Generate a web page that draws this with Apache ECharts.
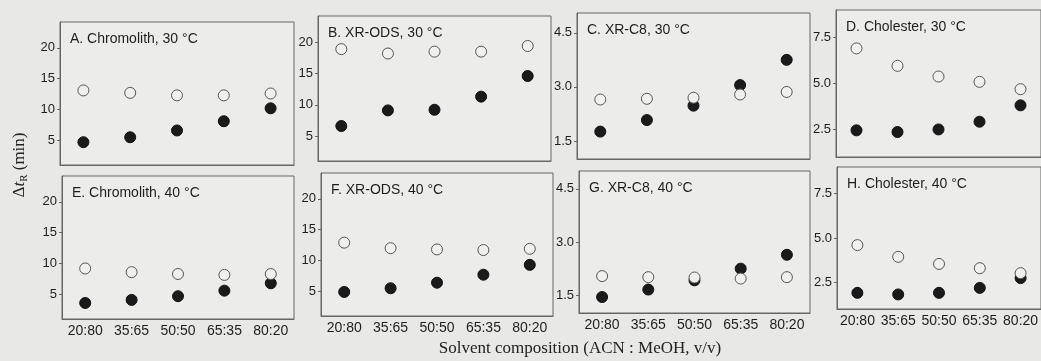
<!DOCTYPE html>
<html>
<head>
<meta charset="utf-8">
<script src="https://cdn.jsdelivr.net/npm/echarts@6/dist/echarts.min.js"></script>
<style>
  html, body { margin: 0; padding: 0; background: #e8e8e6; }
  #chart { width: 1041px; height: 361px; }
</style>
</head>
<body>
<div id="chart"></div>
<script>
// solvent composition (ACN : MeOH)
var categories = ['20:80', '35:65', '50:50', '65:35', '80:20']

// retention difference, open / filled symbols
var aOpen = [13.1, 12.7, 12.3, 12.3, 12.6]
var aFilled = [4.7, 5.5, 6.6, 8.1, 10.2]
var bOpen = [18.9, 18.2, 18.5, 18.5, 19.4]
var bFilled = [6.6, 9.1, 9.2, 11.3, 14.6]
var cOpen = [2.65, 2.67, 2.70, 2.79, 2.86]
var cFilled = [1.76, 2.08, 2.48, 3.05, 3.75]
var dOpen = [6.91, 5.96, 5.38, 5.09, 4.69]
var dFilled = [2.45, 2.36, 2.50, 2.92, 3.81]
var eOpen = [9.2, 8.6, 8.3, 8.15, 8.3]
var eFilled = [3.6, 4.1, 4.7, 5.6, 6.8]
var fOpen = [12.9, 12.0, 11.8, 11.7, 11.9]
var fFilled = [4.9, 5.5, 6.4, 7.7, 9.3]
var gOpen = [2.04, 2.01, 2.00, 1.97, 2.01]
var gFilled = [1.45, 1.66, 1.92, 2.25, 2.64]
var hOpen = [4.60, 3.94, 3.54, 3.30, 3.02]
var hFilled = [1.91, 1.82, 1.91, 2.19, 2.74]

// tick labels
var ticksODS = [5, 10, 15, 20]
var ticksC8 = [1.5, 3.0, 4.5]
var ticksChol = [2.5, 5.0, 7.5]

var panels = [
  { title: 'A. Chromolith, 30 °C', open: aOpen, filled: aFilled, ticks: ticksODS, min: 1, max: 24.2, dec: 0, left: 60, top: 22, width: 234, height: 143, xLabels: false },
  { title: 'B. XR-ODS, 30 °C', open: bOpen, filled: bFilled, ticks: ticksODS, min: 1, max: 24.2, dec: 0, left: 318, top: 16, width: 233, height: 145, xLabels: false },
  { title: 'C. XR-C8, 30 °C', open: cOpen, filled: cFilled, ticks: ticksC8, min: 1, max: 5.05, dec: 1, left: 577, top: 13, width: 233, height: 146, xLabels: false },
  { title: 'D. Cholester, 30 °C', open: dOpen, filled: dFilled, ticks: ticksChol, min: 1, max: 9, dec: 1, left: 836, top: 10, width: 224, height: 147, xLabels: false },
  { title: 'E. Chromolith, 40 °C', open: eOpen, filled: eFilled, ticks: ticksODS, min: 1, max: 24.2, dec: 0, left: 62, top: 176, width: 232, height: 143, xLabels: true },
  { title: 'F. XR-ODS, 40 °C', open: fOpen, filled: fFilled, ticks: ticksODS, min: 1, max: 24.2, dec: 0, left: 321, top: 173, width: 232, height: 143, xLabels: true },
  { title: 'G. XR-C8, 40 °C', open: gOpen, filled: gFilled, ticks: ticksC8, min: 1, max: 5, dec: 1, left: 579, top: 171, width: 231, height: 142, xLabels: true },
  { title: 'H. Cholester, 40 °C', open: hOpen, filled: hFilled, ticks: ticksChol, min: 1, max: 9, dec: 1, left: 837, top: 167, width: 224, height: 142, xLabels: true }
]

var sans = 'Liberation Sans, Arial, sans-serif'
var serif = 'Liberation Serif, Times New Roman, serif'

var grid = []
var xAxis = []
var yAxis = []
var title = []
var series = []

panels.forEach(function (p, i) {
  grid.push({
    left: p.left,
    top: p.top,
    width: p.width,
    height: p.height,
    show: true,
    backgroundColor: '#ececea',
    borderColor: '#666',
    borderWidth: 1
  })
  title.push({
    text: p.title,
    left: p.left + 5,
    top: p.top + 5,
    textStyle: { fontFamily: sans, fontSize: 14, fontWeight: 'normal', color: '#1e1e1e' }
  })
  xAxis.push({
    type: 'category',
    gridIndex: i,
    data: categories,
    boundaryGap: true,
    axisLine: { lineStyle: { color: '#666' } },
    axisTick: { alignWithLabel: true, length: 3, lineStyle: { color: '#666' } },
    axisLabel: {
      show: p.xLabels,
      interval: 0,
      hideOverlap: false,
      fontFamily: sans,
      fontSize: 14,
      color: '#1e1e1e',
      margin: 5
    },
    splitLine: { show: false }
  })
  yAxis.push({
    type: 'value',
    gridIndex: i,
    min: p.min,
    max: p.max,
    axisLine: { show: true, lineStyle: { color: '#666' } },
    axisTick: { show: true, length: 3, customValues: p.ticks, lineStyle: { color: '#666' } },
    axisLabel: {
      customValues: p.ticks,
      fontFamily: sans,
      fontSize: 13,
      color: '#1e1e1e',
      margin: 5,
      formatter: function (v) { return v.toFixed(p.dec) }
    },
    splitLine: { show: false }
  })
  series.push({
    name: 'filled',
    type: 'scatter',
    xAxisIndex: i,
    yAxisIndex: i,
    data: p.filled,
    symbol: 'circle',
    symbolSize: 11,
    itemStyle: { color: '#1a1a1a', borderColor: '#111', borderWidth: 1, opacity: 1 },
    z: 2
  })
  series.push({
    name: 'open',
    type: 'scatter',
    xAxisIndex: i,
    yAxisIndex: i,
    data: p.open,
    symbol: 'circle',
    symbolSize: 11,
    itemStyle: { color: '#f0f0ee', borderColor: '#555', borderWidth: 1, opacity: 1 },
    z: 3
  })
})

var myChart = echarts.init(document.getElementById('chart'))
myChart.setOption({
  backgroundColor: '#e8e8e6',
  animation: false,
  title: title,
  grid: grid,
  xAxis: xAxis,
  yAxis: yAxis,
  series: series,
  graphic: [
    {
      type: 'text',
      x: 20,
      y: 165,
      rotation: Math.PI / 2,
      style: {
        text: '{n|Δ}{it|t}{sub|R}{n| (min)}',
        align: 'center',
        verticalAlign: 'middle',
        fill: '#222',
        rich: {
          n: { fontFamily: serif, fontSize: 17, color: '#222' },
          it: { fontFamily: serif, fontSize: 17, fontStyle: 'italic', color: '#222' },
          sub: { fontFamily: serif, fontSize: 11, color: '#222', padding: [8, 0, 0, 0] }
        }
      }
    },
    {
      type: 'text',
      x: 580,
      y: 349,
      style: {
        text: 'Solvent composition (ACN : MeOH, v/v)',
        align: 'center',
        verticalAlign: 'middle',
        fill: '#222',
        font: '17px ' + serif
      }
    }
  ]
})
</script>
</body>
</html>
